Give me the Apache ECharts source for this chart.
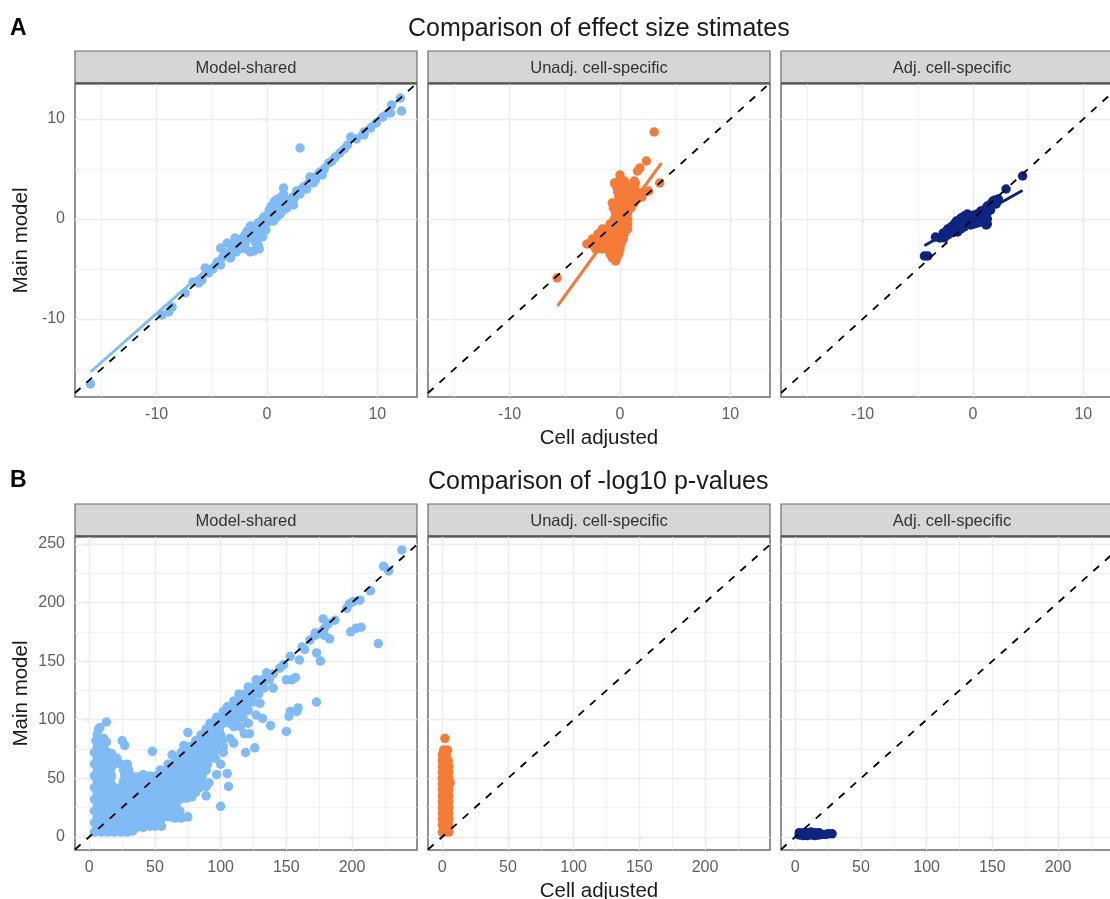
<!DOCTYPE html>
<html><head><meta charset="utf-8">
<style>html,body{margin:0;padding:0;background:#fff;overflow:hidden}#c{width:1110px;height:899px}</style>
<script src="https://cdn.jsdelivr.net/npm/echarts@6/dist/echarts.min.js"></script>
</head><body><div id="c"></div>
<script>
const panelNames = ['Model-shared','Unadj. cell-specific','Adj. cell-specific'];
const effectTicks = [-10,0,10];
const effectMinor = [-15,-5,5];
const pvalXTicks = [0,50,100,150,200];
const pvalXMinor = [25,75,125,175,225];
const pvalYTicks = [0,50,100,150,200,250];
const pvalYMinor = [25,75,125,175,225];
const effectXRange = [-17.4,13.6];
const effectYRange = [-17.8,13.5];
const pvalXRange = [-10.9,249.5];
const pvalYRange = [-11.3,256];
const effectDiag = [[-17.4,-17.4],[13.5,13.5]];
const pvalDiag = [[-10.9,-10.9],[249.5,249.5]];
const fitShared = [[-15.9,-15.2],[12.2,12.2]];
const fitUnadj = [[-5.6,-8.6],[3.7,5.5]];
const fitAdj = [[-4.3,-2.6],[4.4,2.8]];

const effectShared = [[3,7.1],[-16,-16.5],[12.2,10.8],[12.1,12.1],[11.3,11.4],[11.2,10.6],[10.5,10.2],[9.9,9.6],[9.4,9.1],[8.8,8.7],[8.8,8.4],[7.6,8.2],[8.1,8],[7.3,7.4],[7,7],[6.6,6.6],[6.2,6.2],[5.9,5.8],[5.6,5.6],[5.2,5],[5,4.4],[4.8,4.7],[4.4,3.9],[3.9,4.2],[4.2,3.6],[3.3,3.2],[3.6,3],[2.7,2.8],[3,2.5],[2.5,2.1],
[-8.9,-9.3],[-9.5,-9.6],[-8.6,-8.8],[-7.4,-7.4],[-6.7,-6.3],[-5.9,-6.1],[-6.2,-6.4],[-5.6,-4.9],[-5.3,-5.4],[-4.9,-5],[-4.5,-4.3],[-4.2,-2.9],[-4.2,-4.6],[-4,-3.8],[-3.6,-2.4],[-3.8,-3.4],[-3.3,-3.9],[-3.2,-3.1],[-3,-2.5],[-2.8,-3.3],[-2.9,-1.9],[-2.6,-2.4],[-2.5,-3],
[-2.3,-2],[-2.2,-2.8],[-2,-1.6],[-2,-2.5],[-1.9,-3],[-1.8,-1.2],[-1.8,-2],[-1.6,-1.5],[-1.5,-0.7],[-1.5,-3.3],[-1.2,-3.2],[-1.4,-1],[-1.4,-1.9],[-1.1,-0.7],[-1.1,-1.5],[-1,-2.4],[-0.9,-1.9],[-0.9,-1],[-0.8,-0.4],[-0.7,-1.3],[-0.8,-2.6],[-0.7,-3],[-0.5,-0.2],[-0.5,-1],[-0.4,-1.8],[-0.3,0.2],[-0.2,-0.5],[-0.1,-1.1],
[0,0.3],[0.1,-0.3],[0.2,0.9],[0.3,0],[0.4,1.3],[0.5,0.4],[0.6,-0.2],[0.7,1.8],[0.8,1],[0.9,0.2],[1,2],[1.1,1.3],[1.2,0.5],[1.3,2.2],[1.4,1.5],[1.5,3.1],[1.5,2.5],[1.5,0.9],[1.7,1.8],[1.8,1.1],[2,1.6],[2.2,2],[2.4,1.4],[0.7,1.2],[0.3,0.7],[1,0.7]];

const effectUnadj = [[3.1,8.7],[2.4,5.8],[1.8,5.1],[1.6,4.8],[3.6,3.6],[2.6,2.8],[-5.7,-5.9],
[0,4.4],[-0.1,3.8],[0.4,3.8],[1.3,3.8],[-0.5,3.6],[1.4,3.6],[-0.3,3.2],[0.1,3.2],[0.5,3.2],[0.9,3.2],[1.3,3.2],
[-0.2,2.7],[0.2,2.7],[0.6,2.7],[1,2.7],[1.4,2.7],[1.8,2.6],[-0.1,2.2],[0.3,2.2],[0.7,2.2],[1.1,2.2],[1.5,2.2],[2,2.2],
[-0.7,1.6],[-0.3,1.6],[0.1,1.6],[0.5,1.6],[0.9,1.6],[1.3,1.6],[-0.6,1.1],[-0.2,1.1],[0.2,1.1],[0.6,1.1],[1,1.1],[-0.4,0.6],[0,0.6],[0.4,0.6],[0.7,0.6],
[-0.5,0],[-0.1,0],[0.3,0],[0.7,0],[-0.9,-0.5],[-0.5,-0.5],[-0.1,-0.5],[0.3,-0.5],[0.7,-0.5],
[-1.6,-1],[-1.2,-1],[-0.8,-1],[-0.4,-1],[0,-1],[0.4,-1],[0.7,-1],[-2,-1.5],[-1.6,-1.5],[-1.2,-1.5],[-0.8,-1.5],[-0.4,-1.5],[0,-1.5],[0.4,-1.5],
[-2.5,-2],[-2.1,-2],[-1.7,-2],[-1.3,-2],[-0.9,-2],[-0.5,-2],[-0.1,-2],[0.3,-2],[-3,-2.5],[-2.7,-2.5],[-2.3,-2.5],[-1.9,-2.5],[-1.5,-2.5],[-1.1,-2.5],[-0.7,-2.5],[-0.3,-2.5],[0.1,-2.5],
[-2.2,-3],[-1.6,-3],[-1.2,-3],[-0.8,-3],[-0.4,-3],[0,-3],[-0.9,-3.5],[-0.5,-3.5],[-0.1,-3.5],[-0.7,-3.9],[-0.3,-3.9],[-0.4,-4.2]];

const effectAdj = [[4.5,4.3],[3,3],[-4.1,-3.7],[-4.4,-3.7],[-3.4,-1.8],[-3,-1.9],[-2.7,-1.4],[-2.6,-1.9],[-2.3,-1],[-2.3,-1.6],[-2,-0.8],[-2,-1.4],[-1.7,-0.5],[-1.7,-1.1],[-1.5,-0.2],[-1.4,-0.8],[-1.4,-1.3],[-1.1,0.1],[-1.1,-0.5],[-1.1,-1],[-0.8,0.3],[-0.8,-0.3],[-0.8,-0.8],[-0.5,0.5],[-0.5,0],[-0.5,-0.5],[-0.2,0.3],[-0.2,-0.2],[-0.2,-0.6],[0.1,0.4],[0.1,-0.1],[0.1,-0.5],[0.4,0.5],[0.4,0],[0.4,-0.4],[0.7,0.8],[0.7,0.2],[0.7,-0.3],[1,0.9],[1,0.3],[1,-0.3],[1.2,-0.6],[1.3,1.3],[1.3,0.6],[1.3,0],[1.3,-0.5],[1.6,1.5],[1.6,0.9],[1.8,1.8],[2,1.9],[2.1,1.5],[2.3,2]];

const pvalShared = [
[4,4],[9,4],[14,4],[19,4],[24,4],[29,4],[33,5],
[6,8],[11,8],[16,8],[21,8],[26,8],[31,8],[36,8],[41,8],[46,9],[50,9],[55,9],
[4,12],[9,12],[14,12],[19,12],[24,12],[29,12],[34,12],[39,12],[44,12],[49,12],[54,12],
[6,17],[11,17],[16,17],[21,17],[26,17],[31,17],[36,17],[41,17],[46,17],[51,17],[56,17],[61,17],[65,16],[70,16],[75,17],
[4,22],[9,22],[14,22],[19,22],[24,22],[29,22],[34,22],[39,22],[44,22],[49,22],[54,22],[59,22],[64,22],[69,22],
[6,27],[11,27],[16,27],[21,27],[26,27],[31,27],[36,27],[41,27],[46,27],[51,27],[56,27],[61,27],[66,27],[100,26],
[4,32],[9,32],[14,32],[19,32],[24,32],[29,32],[34,32],[39,32],[44,32],[49,32],[54,32],[59,32],[64,32],[69,32],[74,33],[78,34],
[6,37],[11,37],[16,37],[21,37],[26,37],[31,37],[36,37],[41,37],[46,37],[51,37],[56,37],[61,37],[66,37],[71,37],[76,37],[81,38],[89,35],
[4,42],[9,42],[14,42],[19,42],[24,42],[29,42],[34,42],[39,42],[44,42],[49,42],[54,42],[59,42],[64,42],[69,42],[74,42],[79,42],[84,42],[89,43],
[6,47],[11,47],[16,47],[26,47],[31,47],[36,47],[41,47],[46,47],[51,47],[56,47],[61,47],[66,47],[71,47],[76,47],[81,47],[86,47],[91,46],[106,43],
[4,52],[9,52],[14,52],[17,52],[27,52],[32,52],[36,51],[41,53],[46,52],[51,52],[56,52],[61,52],[66,52],[71,52],[76,52],[81,52],[86,52],[97,53],[105,54],
[6,57],[11,57],[16,57],[26,57],[30,57],[54,57],[59,57],[64,57],[69,57],[74,57],[79,57],[84,57],[89,57],
[4,62],[9,62],[14,62],[19,62],[24,62],[29,62],[60,62],[65,62],[70,62],[75,62],[80,62],[85,62],[90,62],[100,62],
[6,67],[11,67],[16,67],[21,67],[66,67],[71,67],[76,67],[81,67],[86,67],[91,67],[96,67],
[4,72],[9,72],[14,72],[17,71],[63,70],[70,72],[75,72],[80,72],[85,72],[90,72],[95,72],[102,72],[119,72],
[6,77],[11,77],[48,73],[72,78],[77,77],[82,77],[87,77],[92,77],[97,77],[102,77],[126,76],
[5,82],[10,82],[13,81],[25,82],[27,78],[81,82],[86,82],[91,82],[96,82],[101,82],[110,80],
[6,87],[11,84],[85,87],[90,87],[95,87],[100,87],[107,84],
[7,92],[8,93],[13,98],[75,89],[89,92],[94,92],[99,92],[118,88],[122,88],
[92,97],[97,97],[102,97],[107,97],[112,96],[110,94],[115,94],[121,97],[138,95],
[97,102],[102,102],[107,102],[112,102],[117,102],[132,101],
[102,107],[107,107],[112,107],[117,107],[121,108],[127,104],
[105,111],[110,111],[115,111],[120,112],
[110,116],[115,116],[120,117],[125,115],[130,114],
[114,122],[119,122],[124,122],[129,122],[121,125],
[121,128],[126,128],[131,128],[133,127],[140,127],
[127,134],[132,134],[137,134],[135,140],[140,139],[145,144],[148,147],
[150,90],[152,103],[153,107],[158,107],[159,110],[173,115],[150,134],[154,134],[157,136],[153,154],[160,151],[173,157],[176,150],[162,162],[164,160],[168,168],[172,172],[176,174],[179,178],[183,169],[178,186],[182,182],[187,185],[179,172],[172,174],[196,195],[198,199],[206,202],[201,201],[199,175],[203,178],[207,179],[220,165],[214,210],[224,231],[228,227],[238,245]];

const pvalUnadj = [[2,84],[1,74],[4,74],[0,70],[3,70],[0,65],[2.5,65],[4.5,65],[0,60],[2.5,60],[5,60],[0,55],[2.5,55],[5,55],[0,50],[2.5,50],[5,50],[0,45],[2.5,45],[6,46],[0,40],[2.5,40],[5,40],[0,35],[2.5,35],[5,35],[0,30],[2.5,30],[5,30],[0,25],[2.5,25],[5,25],[0,20],[2.5,20],[5,20],[0,15],[2.5,15],[5,15],[0,10],[2.5,10],[5,10],[0,4],[2.5,4],[5,4]];

const pvalAdj = [[3,1.5],[3,3.5],[6,1],[6,3.5],[9,1],[9,3.5],[12,1.5],[12,4],[15,1],[15,3.5],[18,1.5],[18,3.5],[20,2],[23,2],[25,2.5],[28,2.5]];

const BLUE='#80bbf6', ORANGE='#f57c38', NAVY='#0d2481';
const colours=[BLUE,ORANGE,NAVY];
const panelLeft=[75,428,781], panelWidth=342;
const rows=[
 {top:84,height:313,stripTop:51,xr:effectXRange,yr:effectYRange,xt:effectTicks,yt:effectTicks,xm:effectMinor,ym:effectMinor,diag:effectDiag,
  data:[effectShared,effectUnadj,effectAdj],fit:[fitShared,fitUnadj,fitAdj]},
 {top:537,height:313,stripTop:504,xr:pvalXRange,yr:pvalYRange,xt:pvalXTicks,yt:pvalYTicks,xm:pvalXMinor,ym:pvalYMinor,diag:pvalDiag,
  data:[pvalShared,pvalUnadj,pvalAdj],fit:[null,null,null]}
];
const grid=[],xAxis=[],yAxis=[],series=[],graphic=[];
const FONT='"Liberation Sans",Arial,sans-serif';
let idx=0;
rows.forEach((r,ri)=>{
 panelNames.forEach((name,pi)=>{
  grid.push({left:panelLeft[pi],top:r.top,width:panelWidth,height:r.height,outerBoundsMode:'none',show:true,borderColor:'#6e6e6e',borderWidth:1.5,backgroundColor:'#fff',z:0});
  const isMid=pi===1;
  xAxis.push({type:'value',gridIndex:idx,min:r.xr[0],max:r.xr[1],splitLine:{show:false},axisLine:{show:false},
   axisTick:{show:true,length:4,customValues:r.xt,lineStyle:{color:'#555',width:1.2}},
   axisLabel:{customValues:r.xt,color:'#5f5f5f',fontSize:16,fontFamily:FONT,margin:10,hideOverlap:false},
   name:isMid?'Cell adjusted':'',nameLocation:'middle',nameGap:31,nameTextStyle:{color:'#1a1a1a',fontSize:20.5,fontFamily:FONT}});
  yAxis.push({type:'value',gridIndex:idx,min:r.yr[0],max:r.yr[1],splitLine:{show:false},axisLine:{show:false},
   axisTick:{show:pi===0,length:4,customValues:r.yt,lineStyle:{color:'#555',width:1.2}},
   axisLabel:{show:pi===0,customValues:r.yt,color:'#5f5f5f',fontSize:16,fontFamily:FONT,margin:10},
   name:pi===0?'Main model':'',nameLocation:'middle',nameGap:43,nameRotate:90,nameTextStyle:{color:'#1a1a1a',fontSize:20.5,fontFamily:FONT}});
  const line=(v,k,w)=>({[k]:v,lineStyle:{color:'#ececec',width:w,type:'solid'}});
  series.push({type:'line',xAxisIndex:idx,yAxisIndex:idx,data:[],silent:true,z:1,
   markLine:{silent:true,symbol:'none',label:{show:false},animation:false,z:1,data:[
     ...r.xt.map(v=>line(v,'xAxis',1.3)),...r.xm.map(v=>line(v,'xAxis',0.7)),
     ...r.yt.map(v=>line(v,'yAxis',1.3)),...r.ym.map(v=>line(v,'yAxis',0.7))]}});
  series.push({type:'scatter',name:name,xAxisIndex:idx,yAxisIndex:idx,data:r.data[pi],symbolSize:9.5,itemStyle:{color:colours[pi],opacity:1},silent:true,z:2,clip:false});
  if(r.fit[pi]) series.push({type:'line',xAxisIndex:idx,yAxisIndex:idx,data:r.fit[pi],showSymbol:false,lineStyle:{color:colours[pi],width:3,cap:'round'},silent:true,z:3});
  series.push({type:'line',xAxisIndex:idx,yAxisIndex:idx,data:r.diag,showSymbol:false,lineStyle:{color:'#000',width:1.8,type:[7.5,8]},silent:true,z:4});
  graphic.push({type:'rect',x:panelLeft[pi],y:r.stripTop,shape:{width:panelWidth,height:r.top-r.stripTop-1},style:{fill:'#d6d6d6',stroke:'#6a6a6a',lineWidth:1.2},z:5});
  graphic.push({type:'rect',x:panelLeft[pi],y:r.top-1.5,shape:{width:panelWidth,height:1},style:{fill:'#333',stroke:null},z:6});
  graphic.push({type:'text',x:panelLeft[pi]+panelWidth/2,y:r.stripTop+17,style:{text:name,fill:'#333',font:'16.5px '+FONT,align:'center',verticalAlign:'middle'},z:7});
  idx++;
 });
});
const chart=echarts.init(document.getElementById('c'),null,{renderer:'canvas'});
chart.setOption({animation:false,backgroundColor:'#fff',
 title:[
  {text:'A',left:5,top:12,textStyle:{fontSize:23,fontWeight:'bold',color:'#000',fontFamily:FONT}},
  {text:'B',left:5,top:464,textStyle:{fontSize:23,fontWeight:'bold',color:'#000',fontFamily:FONT}},
  {text:'Comparison of effect size stimates',left:403,top:12,textStyle:{fontSize:25,fontWeight:'normal',color:'#1a1a1a',fontFamily:FONT}},
  {text:'Comparison of -log10 p-values',left:423,top:465,textStyle:{fontSize:25,fontWeight:'normal',color:'#1a1a1a',fontFamily:FONT}}
 ],
 grid,xAxis,yAxis,series,graphic});
</script></body></html>
